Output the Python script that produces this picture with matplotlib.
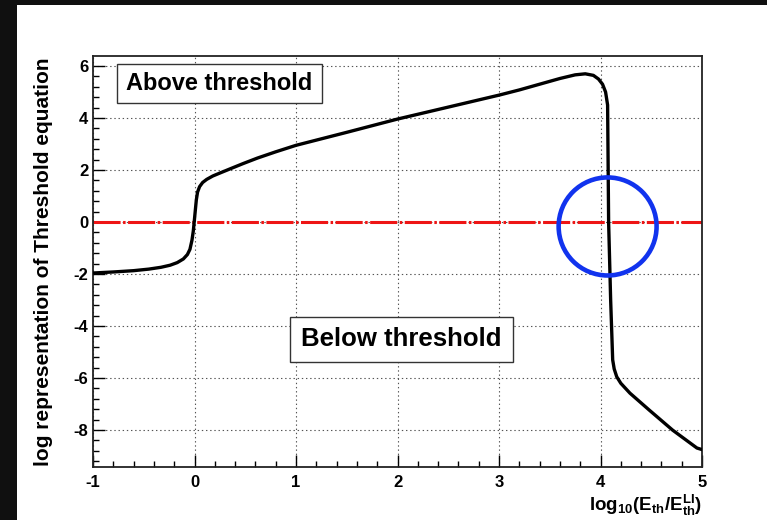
import matplotlib
matplotlib.use("Agg")
import matplotlib.pyplot as plt
from matplotlib.patches import Rectangle, Ellipse
from matplotlib.ticker import MultipleLocator, FixedLocator

# Threshold equation (log scale) versus log10(E_th / E_th^LI)
log_energy_ratio = [-1.00, -0.80, -0.60, -0.45, -0.33, -0.24, -0.17, -0.11,
                    -0.07, -0.045, -0.025, -0.012, -0.003, 0.008, 0.018, 0.03,
                    0.05, 0.08, 0.12, 0.18, 0.26, 0.36, 0.48, 0.62, 0.80,
                    1.00, 1.50, 2.00, 2.50, 3.00, 3.20, 3.40, 3.60, 3.75,
                    3.85, 3.93, 3.98, 4.02, 4.05, 4.07, 4.08, 4.10, 4.12,
                    4.135, 4.16, 4.20, 4.29, 4.48, 4.71, 4.95, 5.00]
log_threshold = [-1.96, -1.92, -1.87, -1.81, -1.74, -1.66, -1.56, -1.42,
                 -1.25, -1.05, -0.70, -0.35, 0.00, 0.45, 0.85, 1.15,
                 1.36, 1.52, 1.64, 1.77, 1.90, 2.06, 2.25, 2.46, 2.70,
                 2.95, 3.45, 3.96, 4.42, 4.88, 5.08, 5.30, 5.52, 5.66,
                 5.70, 5.64, 5.50, 5.30, 5.00, 4.50, 0.00, -3.00, -5.30,
                 -5.65, -5.95, -6.20, -6.58, -7.23, -8.00, -8.69, -8.75]

threshold_level = 0.0
x_ticks = [-1, 0, 1, 2, 3, 4, 5]
y_ticks = [-8, -6, -4, -2, 0, 2, 4, 6]
x_range = (-1.0, 5.0)
y_range = (-9.42, 6.385)

plt.rcParams['font.family'] = ['Liberation Sans', 'DejaVu Sans']
plt.rcParams['font.weight'] = 'bold'
plt.rcParams['mathtext.fontset'] = 'custom'
plt.rcParams['mathtext.rm'] = 'Liberation Sans:bold'
plt.rcParams['mathtext.it'] = 'Liberation Sans:bold'
plt.rcParams['mathtext.bf'] = 'Liberation Sans:bold'
plt.rcParams['lines.scale_dashes'] = False

W, H = 767, 520
fig = plt.figure(figsize=(W / 100, H / 100), dpi=100)
fig.patch.set_facecolor('white')

# dark slide border on the left and top
fig.patches.append(Rectangle((0, 0), 17 / W, 1, transform=fig.transFigure,
                             facecolor='#101010', edgecolor='none', zorder=-10))
fig.patches.append(Rectangle((0, 1 - 5 / H), 1, 5 / H, transform=fig.transFigure,
                             facecolor='#101010', edgecolor='none', zorder=-10))

ax = fig.add_axes([93 / W, 1 - 467 / H, 609 / W, 411 / H])
ax.set_xlim(*x_range)
ax.set_ylim(*y_range)

ax.xaxis.set_major_locator(FixedLocator(x_ticks))
ax.yaxis.set_major_locator(FixedLocator(y_ticks))
ax.xaxis.set_minor_locator(MultipleLocator(0.2))
ax.yaxis.set_minor_locator(MultipleLocator(0.4))
ax.set_xticklabels([str(t) for t in x_ticks])
ax.set_yticklabels([str(t) for t in y_ticks])

ax.tick_params(which='both', direction='in', top=False, right=False,
               color='black', width=1.0)
ax.tick_params(which='major', length=8.6, labelsize=12)
ax.tick_params(axis='x', which='major', pad=6.0)
ax.tick_params(axis='y', which='major', pad=3.5)
ax.tick_params(which='minor', length=4.3)
for lab in ax.get_xticklabels() + ax.get_yticklabels():
    lab.set_fontweight('bold')

for s in ax.spines.values():
    s.set_linewidth(1.3)
    s.set_color('#222222')

ax.grid(True, which='major', color='#555555', linestyle=(0, (1, 2)),
        linewidth=0.8, zorder=0)
ax.set_axisbelow(True)

# threshold line
ax.plot(list(x_range), [threshold_level, threshold_level], color='#ee1515',
        linewidth=2.2, dashes=(19.5, 1.8, 1.8, 1.8), zorder=2)

# threshold curve
ax.plot(log_energy_ratio, log_threshold, color='black', linewidth=2.4,
        solid_joinstyle='round', solid_capstyle='round', zorder=3)

# region labels
def boxed_label(x0, y0, x1, y1, text, size):
    ax.add_patch(Rectangle((x0, y0), x1 - x0, y1 - y0, transform=ax.transAxes,
                           facecolor='white', edgecolor='#333333',
                           linewidth=1.0, zorder=4))
    ax.text((x0 + x1) / 2, (y0 + y1) / 2, text, transform=ax.transAxes,
            ha='center', va='center', fontsize=size, fontweight='bold',
            color='black', zorder=5)

boxed_label(0.039, 0.8856, 0.376, 0.9805, 'Above threshold', 17)
boxed_label(0.3235, 0.2555, 0.6897, 0.365, 'Below threshold', 18.5)

# highlight of the crossing point
ax.add_patch(Ellipse((4.07, -0.17), 0.965, 3.77, fill=False,
                     edgecolor='#1133ee', linewidth=3.3, clip_on=False,
                     zorder=6))

ax.set_ylabel('log representation of Threshold equation', fontsize=15,
              fontweight='bold')
ax.yaxis.set_label_coords(-0.066, 0.5)
fig.text(702 / W, 1 - 511 / H, r'$\mathrm{log_{10}(E_{th}/E^{LI}_{th})}$',
         ha='right', va='baseline', fontsize=13.5)

fig.savefig('out.png', dpi=100)
